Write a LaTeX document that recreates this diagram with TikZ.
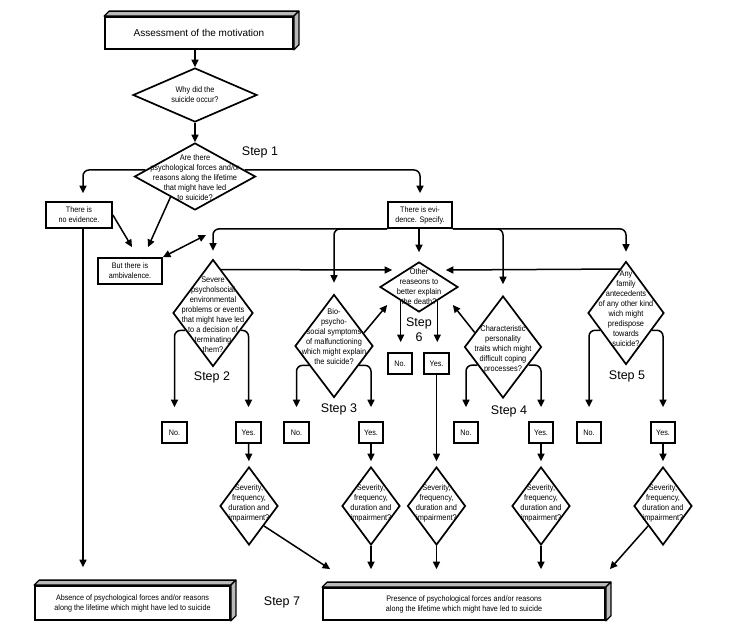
\documentclass[tikz,border=0pt]{standalone}
\usepackage{fontspec}
\setmainfont{Liberation Sans}
\newfontfamily\cf[FakeStretch=0.9]{Liberation Sans}
\usetikzlibrary{arrows.meta,shapes.geometric,calc}
\begin{document}
\begin{tikzpicture}[x=1pt,y=-1pt,
  ln/.style={line width=1.5pt},
  arr/.style={ln,-{Triangle[length=7.5pt,width=7pt]}},
  darr/.style={ln,{Triangle[length=7.5pt,width=7pt]}-{Triangle[length=7.5pt,width=7pt]}},
  dia/.style={shape=diamond,draw,line width=1.7pt,inner sep=0pt},
  dtext/.style={font=\cf\fontsize{8.2}{10}\selectfont,align=center,inner sep=0pt},
  box/.style={draw,line width=1.8pt,inner sep=0pt,align=center,font=\cf\fontsize{8}{10}\selectfont},
  yn/.style={box,minimum width=24.5pt,minimum height=21pt},
  slab/.style={draw,line width=1.8pt,inner sep=0pt,align=center,fill=white},
  face/.style={draw,line width=1.3pt,fill=gray!55,line join=round},
  steptxt/.style={font=\fontsize{12.5}{14}\selectfont,inner sep=0pt,align=center},
  rc/.style={rounded corners=6pt}
]
\path[use as bounding box,fill=white] (0,0) rectangle (738,622);

% top box
\node[slab,minimum width=188pt,minimum height=32pt,font=\fontsize{10}{12}\selectfont] (top) at (199,33) {Assessment of the motivation};

% diamonds
\node[dia,minimum width=124pt,minimum height=54pt] (q0) at (195,95) {};
\node[dtext] (q0t) at (q0.center) {Why did the\\suicide occur?};
\node[dia,minimum width=121pt,minimum height=67pt] (q1) at (195,176.5) {};
\node[dtext] (q1t) at ($(q1.center)+(0,1)$) {Are there\\psychological forces and/or\\reasons along the lifetime\\that might have led\\to suicide?};

\node[box,minimum width=66pt,minimum height=26pt] (noev) at (79,215) {There is\\no evidence.};
\node[box,minimum width=64pt,minimum height=26pt] (ev) at (420,215) {There is evi-\\dence. Specify.};
\node[box,minimum width=64pt,minimum height=26pt] (amb) at (130,271) {But there is\\ambivalence.};

\node[dia,minimum width=80pt,minimum height=107pt] (q2) at (213,313) {};
\node[dtext] (q2t) at ($(q2.center)+(0,2)$) {Severe\\psycholsocial\\environmental\\problems or events\\that might have led\\to a decision of\\terminating\\them?};
\node[dia,minimum width=78pt,minimum height=50pt] (q6) at (419,287) {};
\node[dtext] (q6t) at (q6.center) {Other\\reaseons to\\better explain\\the death?};
\node[dia,minimum width=78pt,minimum height=103pt] (q3) at (334,346) {};
\node[dtext] (q3t) at ($(q3.center)+(0,-9)$) {Bio-\\psycho-\\social symptoms\\of malfunctioning\\which might explain\\the suicide?};
\node[dia,minimum width=77pt,minimum height=102pt] (q4) at (503,347) {};
\node[dtext] (q4t) at ($(q4.center)+(0,2)$) {Characteristic\\personality\\traits which might\\difficult coping\\processes?};
\node[dia,minimum width=76pt,minimum height=103pt] (q5) at (626,313) {};
\node[dtext] (q5t) at ($(q5.center)+(0,-4)$) {Any\\family\\antecedents\\of any other kind\\wich might\\predispose\\towards\\suicide?};

% yes / no boxes
\node[yn] (no2) at (174.5,432.5) {No.};
\node[yn] (yes2) at (248.5,432.5) {Yes.};
\node[yn] (no3) at (296.5,432.5) {No.};
\node[yn] (yes3) at (371,432.5) {Yes.};
\node[yn] (no4) at (466,432.5) {No.};
\node[yn] (yes4) at (541,432.5) {Yes.};
\node[yn] (no5) at (589,432.5) {No.};
\node[yn] (yes5) at (663,432.5) {Yes.};
\node[yn] (no6) at (400,363.5) {No.};
\node[yn] (yes6) at (436.5,363.5) {Yes.};

% severity diamonds
\foreach \n/\x in {sev2/249,sev3/371,sev6/436.5,sev4/541,sev5/663}{
  \node[dia,minimum width=58pt,minimum height=78pt] (\n) at (\x,506) {};
  \node[dtext] (\n t) at ($(\n.center)+(0,-3)$) {Severity,\\frequency,\\duration and\\impairment?};
}

% bottom boxes
\node[slab,minimum width=195pt,minimum height=34pt,font=\cf\fontsize{8}{10}\selectfont] (abs) at (132.5,603) {Absence of psychological forces and/or reasons\\along the lifetime which might have led to suicide};
\node[slab,minimum width=282pt,minimum height=32pt,font=\cf\fontsize{8}{10}\selectfont] (pres) at (464,604) {Presence of psychological forces and/or reasons\\along the lifetime which might have led to suicide};

\foreach \n in {top,abs,pres}{
  \draw[face] (\n.north west) -- ++(5,-5) -- ($(\n.north east)+(5,-5)$) -- (\n.north east) -- cycle;
  \draw[face] (\n.north east) -- ++(5,-5) -- ($(\n.south east)+(5,-5)$) -- (\n.south east) -- cycle;
}

% step labels
\node[steptxt] (s1) at (260,152) {Step 1};
\node[steptxt] (s2) at (212,377) {Step 2};
\node[steptxt] (s3) at (339,409) {Step 3};
\node[steptxt] (s4) at (509,411) {Step 4};
\node[steptxt] (s5) at (627,376) {Step 5};
\node[steptxt,font=\fontsize{12.5}{15}\selectfont] (s6) at (419,330) {Step\\6};
\node[steptxt] (s7) at (282,602) {Step 7};

% connectors
\draw[arr] (top.south -| q0.north) -- (q0.north);
\draw[arr] (q0.south) -- (q1.north);

\coordinate (q1l) at ($(q1.west)!0.19!(q1.north)$);
\coordinate (q1r) at ($(q1.east)!0.19!(q1.north)$);
\draw[arr,rc,shorten >=8pt] (q1l) -| ($(noev.north)+(4,0)$);
\draw[arr,rc,shorten >=8pt] (q1r) -| (ev.north);

\draw[arr] (noev.east) -- ($(amb.north)+(2,-10)$);
\draw[arr] ($(q1.west)!0.6!(q1.south)$) -- ($(amb.north)+(18,-10)$);
\coordinate (ambtip) at (206,235);
\draw[darr] (amb.north east) -- (ambtip);

% bus from evidence
\draw[arr,rc,shorten >=8pt] (ev.south west) -| (q2.north);
\draw[arr,rc,shorten >=11pt] (ev.south west) -| (q3.north);
\draw[arr,shorten >=9pt] (ev.south -| q6.north) -- (q6.north);
\draw[arr,rc,shorten >=11pt] (ev.south east) -| (q4.north);
\draw[arr,rc,shorten >=9pt] (ev.south east) -| (q5.north);

% into step 6
\draw[arr] ($(q2.north)!0.2!(q2.east)$) -- ($(q6.west)+(13,-17)$);
\draw[arr] ($(q5.north)!0.16!(q5.west)$) -- ($(q6.east)+(-13,-17)$);
\draw[arr] ($(q3.north)!0.75!(q3.east)$) -- ($(q6.west)+(8,18)$);
\draw[arr] ($(q4.north)!0.72!(q4.west)$) -- ($(q6.east)+(-6,18)$);

% step 6 outputs
\coordinate (q6l) at ($(q6.west)!0.54!(q6.south)$);
\coordinate (q6r) at ($(q6.east)!0.54!(q6.south)$);
\draw[arr,shorten >=10pt] (q6l) -- (q6l |- no6.north);
\draw[arr,shorten >=10pt] (q6r) -- (q6r |- yes6.north);

% branches
\coordinate (q2l) at ($(q2.west)!0.32!(q2.south)$);
\coordinate (q2r) at ($(q2.east)!0.32!(q2.south)$);
\coordinate (q3l) at ($(q3.west)!0.37!(q3.south)$);
\coordinate (q3r) at ($(q3.east)!0.37!(q3.south)$);
\coordinate (q4l) at ($(q4.west)!0.35!(q4.south)$);
\coordinate (q4r) at ($(q4.east)!0.35!(q4.south)$);
\coordinate (q5l) at ($(q5.west)!0.33!(q5.south)$);
\coordinate (q5r) at ($(q5.east)!0.33!(q5.south)$);
\draw[arr,rc,shorten >=14pt] (q2l) -| (no2.north);
\draw[arr,rc,shorten >=14pt] (q2r) -| (yes2.north);
\draw[arr,rc,shorten >=14pt] (q3l) -| (no3.north);
\draw[arr,rc,shorten >=14pt] (q3r) -| (yes3.north);
\draw[arr,rc,shorten >=14pt] (q4l) -| (no4.north);
\draw[arr,rc,shorten >=14pt] (q4r) -| (yes4.north);
\draw[arr,rc,shorten >=14pt] (q5l) -| (no5.north);
\draw[arr,rc,shorten >=14pt] (q5r) -| (yes5.north);

% yes to severity
\draw[arr,shorten >=5pt] (yes2.south) -- (sev2.north);
\draw[arr,shorten >=5pt] (yes3.south) -- (sev3.north);
\draw[arr,shorten >=5pt] (yes4.south) -- (sev4.north);
\draw[arr,shorten >=5pt] (yes5.south) -- (sev5.north);
\draw[arr,shorten >=5pt] (yes6.south) -- (sev6.north);

% severity to presence
\draw[arr] ($(sev2.east)!0.5!(sev2.south)$) -- ($(pres.north west)+(8,-18)$);
\draw[arr,shorten >=18pt] (sev3.south) -- (sev3.south |- pres.north);
\draw[arr,shorten >=18pt] (sev6.south) -- (sev6.south |- pres.north);
\draw[arr,shorten >=18pt] (sev4.south) -- (sev4.south |- pres.north);
\draw[arr] ($(sev5.west)!0.5!(sev5.south)$) -- ($(pres.north east)+(4,-18)$);

% no evidence to absence
\coordinate (nx) at ($(noev.south)+(4,0)$);
\draw[arr,shorten >=18pt] (nx) -- (nx |- abs.north);
\end{tikzpicture}
\end{document}
